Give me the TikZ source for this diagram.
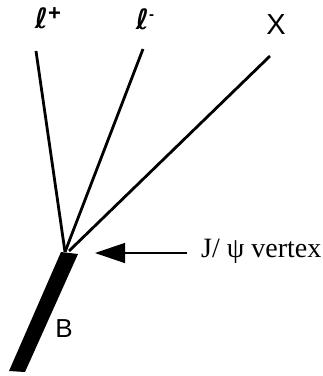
\documentclass[tikz,border=0pt]{standalone}
\usepackage{fontspec}
\setmainfont{Liberation Serif}
\newfontfamily\helv{Liberation Sans}
\newfontfamily\ellfont{DejaVu Sans}
\usepackage{tikz}
\usetikzlibrary{arrows.meta,positioning,calc}

\begin{document}
\begin{tikzpicture}[x=1pt,y=-1pt,
    track/.style={line width=2.8pt},
    lab/.style={inner sep=0pt,font=\fontsize{26}{28}\selectfont}]
  \useasboundingbox (0,0) rectangle (323,376);
  % decay vertex and track ends
  \coordinate (vtx) at (65,252);
  \coordinate (lpend) at (36,51);
  \coordinate (lmend) at (143,49);
  \coordinate (xend) at (270,56);
  % labels
  \node[lab,font=\ellfont\bfseries\fontsize{28}{28}\selectfont] (lp) at (48,18)
       {ℓ\raisebox{8pt}{\helv\bfseries\fontsize{22}{22}\selectfont +}};
  \node[lab,font=\ellfont\bfseries\fontsize{28}{28}\selectfont] (lm) at (145,19)
       {ℓ\raisebox{10pt}{\helv\bfseries\fontsize{15}{15}\selectfont -}};
  \node[lab,font=\helv\fontsize{29}{29}\selectfont] (x) at (276,25) {X};
  \node[lab,font=\helv\fontsize{26}{26}\selectfont] (b) at (64,329) {B};
  % charged tracks
  \draw[track] (lpend) -- (vtx);
  \draw[track] (lmend) -- (vtx);
  \draw[track] (xend) -- ($(vtx)+(4,-1)$);
  % B flight path
  \fill (61,252) -- (78,254) -- (25,372) -- (9,371) -- cycle;
  % vertex pointer
  \node[lab,anchor=west,font=\fontsize{28}{28}\selectfont] (jpsi) at (201,251) {J/ ψ vertex};
  \coordinate (tip) at (95,253);
  \draw[line width=1.3pt,-{Triangle[length=30pt,width=20pt]}] ($(jpsi.west)+(-14,2)$) -- (tip);
\end{tikzpicture}
\end{document}
